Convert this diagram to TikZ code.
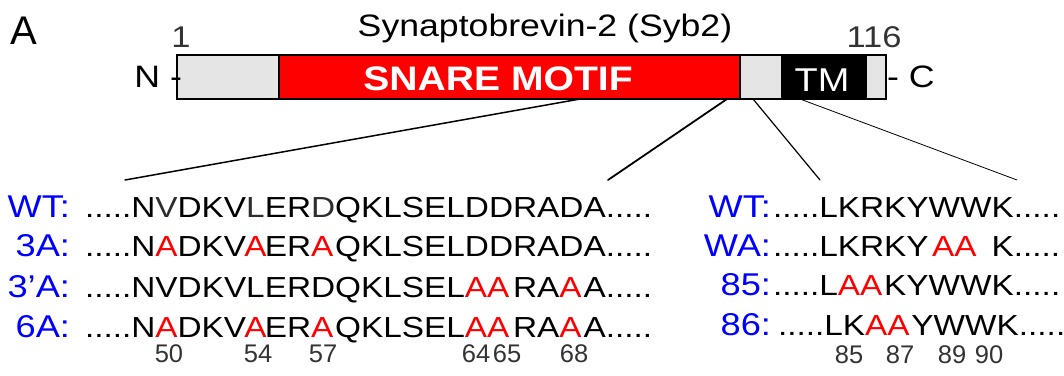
\documentclass[tikz,border=0pt]{standalone}
\usepackage{fontspec}
\usepackage{calc}
\setmainfont{Liberation Sans}[FakeStretch=1.15]
\newfontfamily\plainsans{Liberation Sans}
\definecolor{mutred}{RGB}{255,0,0}
\definecolor{lblblue}{RGB}{0,0,255}
\definecolor{boxgray}{RGB}{229,229,229}
\definecolor{numgray}{RGB}{51,51,51}
\definecolor{softblk}{RGB}{45,45,45}
% residue in softer tone
\newcommand\gres[1]{\textcolor{softblk}{#1}}
% mutated residue(s), set in the width of the wild-type residue(s)
\newcommand\swap[3][l]{\makebox[\widthof{#2}][#1]{\textcolor{mutred}{#3}}}
\begin{document}
\begin{tikzpicture}[x=1pt,y=-1pt,
  txt/.style={inner sep=0pt,outer sep=0pt},
  seq/.style={txt,anchor=base west,font=\fontsize{29}{29}\selectfont},
  lbl/.style={txt,anchor=base east,text=lblblue,font=\fontsize{31.5}{31.5}\selectfont},
  num/.style={txt,anchor=base,text=numgray,font=\plainsans\fontsize{25.5}{25.5}\selectfont},
  seg/.style={draw=black,line width=1.4pt},
  zoomline/.style={draw=black,line cap=round}]
\useasboundingbox (0,0) rectangle (1064,375);

% panel letter and title
\node[txt,anchor=base west,font=\plainsans\fontsize{40}{40}\selectfont] (panel) at (10,44) {A};
\node[txt,anchor=base,font=\fontsize{31}{31}\selectfont] (title) at (545,36) {Synaptobrevin-2 (Syb2)};
\node[txt,anchor=base,text=numgray,font=\fontsize{30}{30}\selectfont] (first) at (181,47) {1};
\node[txt,anchor=base,text=numgray,font=\fontsize{30}{30}\selectfont] (last) at (874,47) {116};

% domain bar
\fill[boxgray] (177,55) rectangle (279,99);
\fill[mutred] (279,55) rectangle (740,99);
\fill[boxgray] (740,55) rectangle (782,99);
\fill[black] (782,55) rectangle (866,99);
\fill[boxgray] (866,55) rectangle (886,99);
\draw[seg] (279,55) -- (279,99) (740,55) -- (740,99) (782,55) -- (782,99) (866,55) -- (866,99);
\draw[seg] (177,55) rectangle (886,99);
\node[txt,anchor=base,text=white,font=\bfseries\fontsize{34}{34}\selectfont] (snare) at (498,90) {SNARE MOTIF};
\node[txt,anchor=base,text=white,font=\fontsize{33}{33}\selectfont] (tm) at (822,91) {TM};
\node[txt,anchor=base east,font=\fontsize{31}{31}\selectfont] (nterm) at (182,87) {N -};
\node[txt,anchor=base west,font=\fontsize{31}{31}\selectfont] (cterm) at (887,87) {- C};

% zoom connectors
\coordinate (b1) at (580,99);  \coordinate (s1) at (125,180);
\coordinate (b2) at (727,99);  \coordinate (s2) at (608,180);
\coordinate (b3) at (753,99);  \coordinate (s3) at (820,180);
\coordinate (b4) at (800,99);  \coordinate (s4) at (1017,180);
\draw[zoomline,line width=1.5pt] (b1) -- (s1);
\draw[zoomline,line width=1.8pt] (b2) -- (s2);
\draw[zoomline,line width=1.2pt] (b3) -- (s3);
\draw[zoomline,line width=0.8pt] (b4) -- (s4);

% SNARE motif sequences
\node[lbl] (lwt) at (70,217) {WT:};
\node[lbl] (l3a) at (70,256) {3A:};
\node[lbl] (l3p) at (70,297) {3’A:};
\node[lbl] (l6a) at (70,337) {6A:};
\node[seq] (swt) at (85,217) {.....N\gres{V}DKV\gres{L}ER\gres{D}QKLSELDDRADA.....};
\node[seq] (s3a) at (85,256) {.....N\swap{V}{A}DKV\swap[c]{L}{A}ER\swap{D}{A}QKLSELDDRADA.....};
\node[seq] (s3p) at (85,297) {.....NVDKVLERDQKLSEL\swap{DD}{AA}RA\swap{D}{A}A.....};
\node[seq] (s6a) at (85,337) {.....N\swap{V}{A}DKV\swap[c]{L}{A}ER\swap{D}{A}QKLSEL\swap{DD}{AA}RA\swap{D}{A}A.....};
\node[num] (n50) at (169,362) {50};
\node[num] (n54) at (258,362) {54};
\node[num] (n57) at (323,362) {57};
\node[num] (n64) at (476,362) {64};
\node[num] (n65) at (507,362) {65};
\node[num] (n68) at (574,362) {68};

% juxtamembrane sequences
\node[lbl] (rwt) at (771,217) {WT:};
\node[lbl] (rwa) at (771,256) {WA:};
\node[lbl] (r85) at (771,295) {85:};
\node[lbl] (r86) at (771,335) {86:};
\node[seq] (qwt) at (773,217) {.....LKRKYWWK.....};
\node[seq] (qwa) at (773,256) {.....LKRKY\makebox[\widthof{WW}][l]{\hspace{0.12em}\textcolor{mutred}{AA}}K.....};
\node[seq] (q85) at (773,295) {.....L\swap{KR}{AA}KYWWK.....};
\node[seq] (q86) at (778,335) {.....LK\swap{RK}{AA}YWWK.....};
\node[num] (m85) at (849,363) {85};
\node[num] (m87) at (900,363) {87};
\node[num] (m89) at (952,363) {89};
\node[num] (m90) at (989,363) {90};
\end{tikzpicture}
\end{document}
